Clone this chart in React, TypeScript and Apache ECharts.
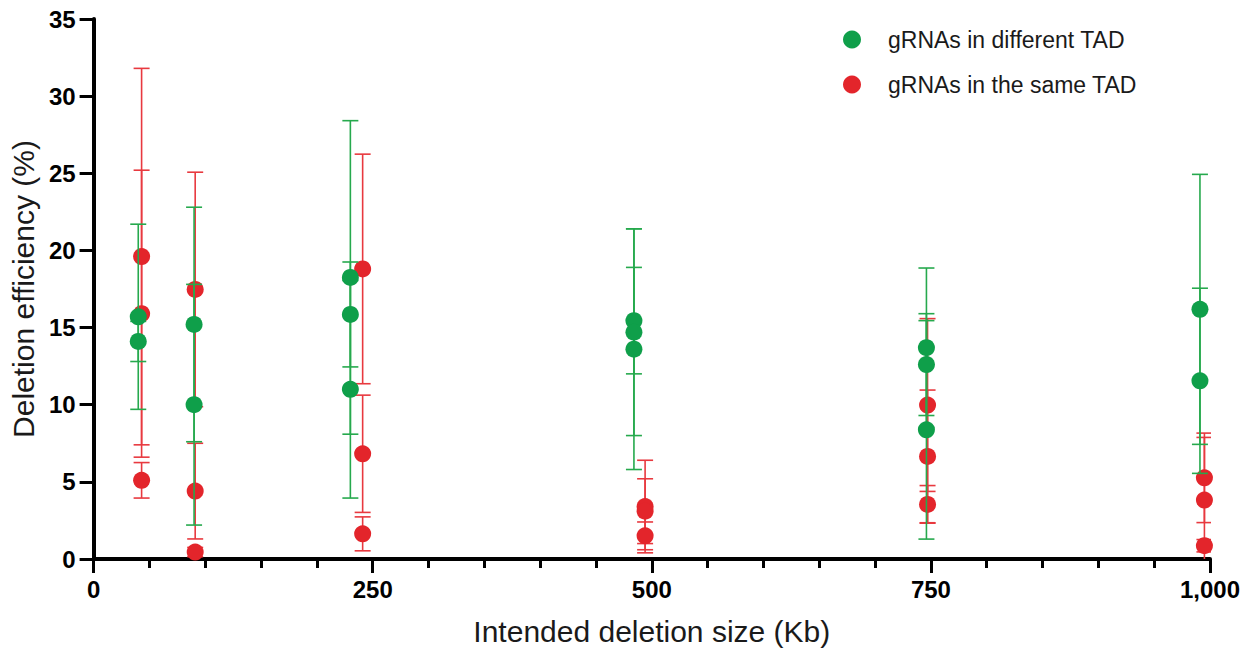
import React, { useEffect, useRef } from "react";
import * as echarts from "echarts";

// Intended deletion size (Kb) per point
const greenX = [40, 40, 90, 90, 230, 230, 230, 484, 484, 484, 746, 746, 746, 991, 991];
// Deletion efficiency (%) mean
const greenY = [15.7, 14.1, 15.2, 10.0, 18.25, 15.85, 11.0, 15.45, 14.7, 13.6, 13.7, 12.6, 8.37, 16.18, 11.55];
// SD
const greenSD = [6.0, 1.3, 7.6, 7.8, 10.16, 3.4, 7.05, 3.45, 6.7, 7.8, 5.16, 3.3, 7.08, 8.75, 6.0];

const redX = [43, 43, 43, 91, 91, 91, 241, 241, 241, 494, 494, 494, 747, 747, 747, 995, 995, 995];
const redY = [19.6, 15.9, 5.1, 17.47, 4.4, 0.45, 18.8, 6.82, 1.63, 3.4, 3.1, 1.5, 9.98, 6.65, 3.54, 5.26, 3.82, 0.86];
const redSD = [12.2, 9.3, 1.15, 7.6, 3.1, 0.3, 7.44, 3.8, 1.1, 3.0, 2.1, 0.9, 5.6, 4.3, 1.22, 2.9, 4.06, 0.4];

const xTicks = [0, 250, 500, 750, 1000];
const seriesNames = ["gRNAs in different TAD", "gRNAs in the same TAD"];

const GREEN = "#0f9f4a";
const GREEN_LINE = "#26a94d";
const RED = "#e3252b";
const RED_LINE = "#e8393f";

function errorBars(color: string) {
  return (params: any, api: any) => {
    const x = api.value(0);
    const lo = api.value(1);
    const hi = api.value(2);
    const top = api.coord([x, hi]);
    const bot = api.coord([x, lo]);
    const hw = 8;
    const style = { stroke: color, lineWidth: 1.6 };
    return {
      type: "group",
      children: [
        { type: "line", shape: { x1: top[0], y1: top[1], x2: bot[0], y2: bot[1] }, style },
        { type: "line", shape: { x1: top[0] - hw, y1: top[1], x2: top[0] + hw, y2: top[1] }, style },
        { type: "line", shape: { x1: bot[0] - hw, y1: bot[1], x2: bot[0] + hw, y2: bot[1] }, style },
      ],
    };
  };
}

export default function App() {
  const ref = useRef<HTMLDivElement>(null);
  useEffect(() => {
    if (!ref.current) return;
    const chart = echarts.init(ref.current, undefined, { renderer: "svg" });
    const greenPts = greenX.map((x, i) => [x, greenY[i]]);
    const redPts = redX.map((x, i) => [x, redY[i]]);
    const greenErr = greenX.map((x, i) => [x, greenY[i] - greenSD[i], greenY[i] + greenSD[i]]);
    const redErr = redX.map((x, i) => [x, redY[i] - redSD[i], redY[i] + redSD[i]]);
    chart.setOption({
      animation: false,
      backgroundColor: "#ffffff",
      grid: { left: 92, right: 37, top: 19, bottom: 88, containLabel: false },
      legend: {
        orient: "vertical",
        left: 838,
        top: 23,
        itemWidth: 18,
        itemHeight: 18,
        itemGap: 22,
        icon: "circle",
        data: seriesNames,
        textStyle: {
          fontSize: 23,
          color: "#1a1a1a",
          fontFamily: "'Liberation Sans', Arial, sans-serif",
          padding: [0, 0, 0, 22],
        },
      },
      xAxis: {
        type: "value",
        min: 0,
        max: 1000,
        interval: 250,
        name: "Intended deletion size (Kb)",
        nameLocation: "middle",
        nameGap: 57,
        nameTextStyle: {
          fontSize: 30,
          color: "#1a1a1a",
          fontFamily: "'Liberation Sans', Arial, sans-serif",
        },
        axisLine: { show: true, onZero: false, lineStyle: { color: "#000", width: 4 } },
        axisTick: { show: true, length: 14, lineStyle: { color: "#000", width: 3 } },
        minorTick: { show: true, splitNumber: 5, length: 9, lineStyle: { color: "#000", width: 3 } },
        splitLine: { show: false },
        minorSplitLine: { show: false },
        axisLabel: {
          margin: 18,
          fontSize: 24,
          fontWeight: "bold",
          color: "#000",
          fontFamily: "'Liberation Sans', Arial, sans-serif",
          formatter: (v: number) => (xTicks.includes(v) ? v.toLocaleString("en-US") : ""),
        },
      },
      yAxis: {
        type: "value",
        min: 0,
        max: 35,
        interval: 5,
        name: "Deletion efficiency (%)",
        nameLocation: "middle",
        nameGap: 49,
        nameRotate: 90,
        nameTextStyle: {
          fontSize: 30,
          color: "#1a1a1a",
          fontFamily: "'Liberation Sans', Arial, sans-serif",
        },
        axisLine: { show: true, lineStyle: { color: "#000", width: 4 } },
        axisTick: { show: true, length: 14, lineStyle: { color: "#000", width: 3 } },
        splitLine: { show: false },
        axisLabel: {
          margin: 18,
          fontSize: 24,
          fontWeight: "bold",
          color: "#000",
          fontFamily: "'Liberation Sans', Arial, sans-serif",
        },
      },
      series: [
        {
          type: "custom",
          name: seriesNames[1] + " SD",
          renderItem: errorBars(RED_LINE),
          data: redErr,
          encode: { x: 0, y: [1, 2] },
          clip: true,
          z: 2,
          silent: true,
        },
        {
          type: "scatter",
          name: seriesNames[1],
          data: redPts,
          symbolSize: 17,
          itemStyle: { color: RED, opacity: 1 },
          z: 3,
        },
        {
          type: "custom",
          name: seriesNames[0] + " SD",
          renderItem: errorBars(GREEN_LINE),
          data: greenErr,
          encode: { x: 0, y: [1, 2] },
          clip: true,
          z: 4,
          silent: true,
        },
        {
          type: "scatter",
          name: seriesNames[0],
          data: greenPts,
          symbolSize: 17,
          itemStyle: { color: GREEN, opacity: 1 },
          z: 5,
        },
      ],
    });
    return () => chart.dispose();
  }, []);
  return (
    <div
      ref={ref}
      style={{ position: "fixed", left: 0, top: 0, width: 1247, height: 651, background: "#fff" }}
    />
  );
}
